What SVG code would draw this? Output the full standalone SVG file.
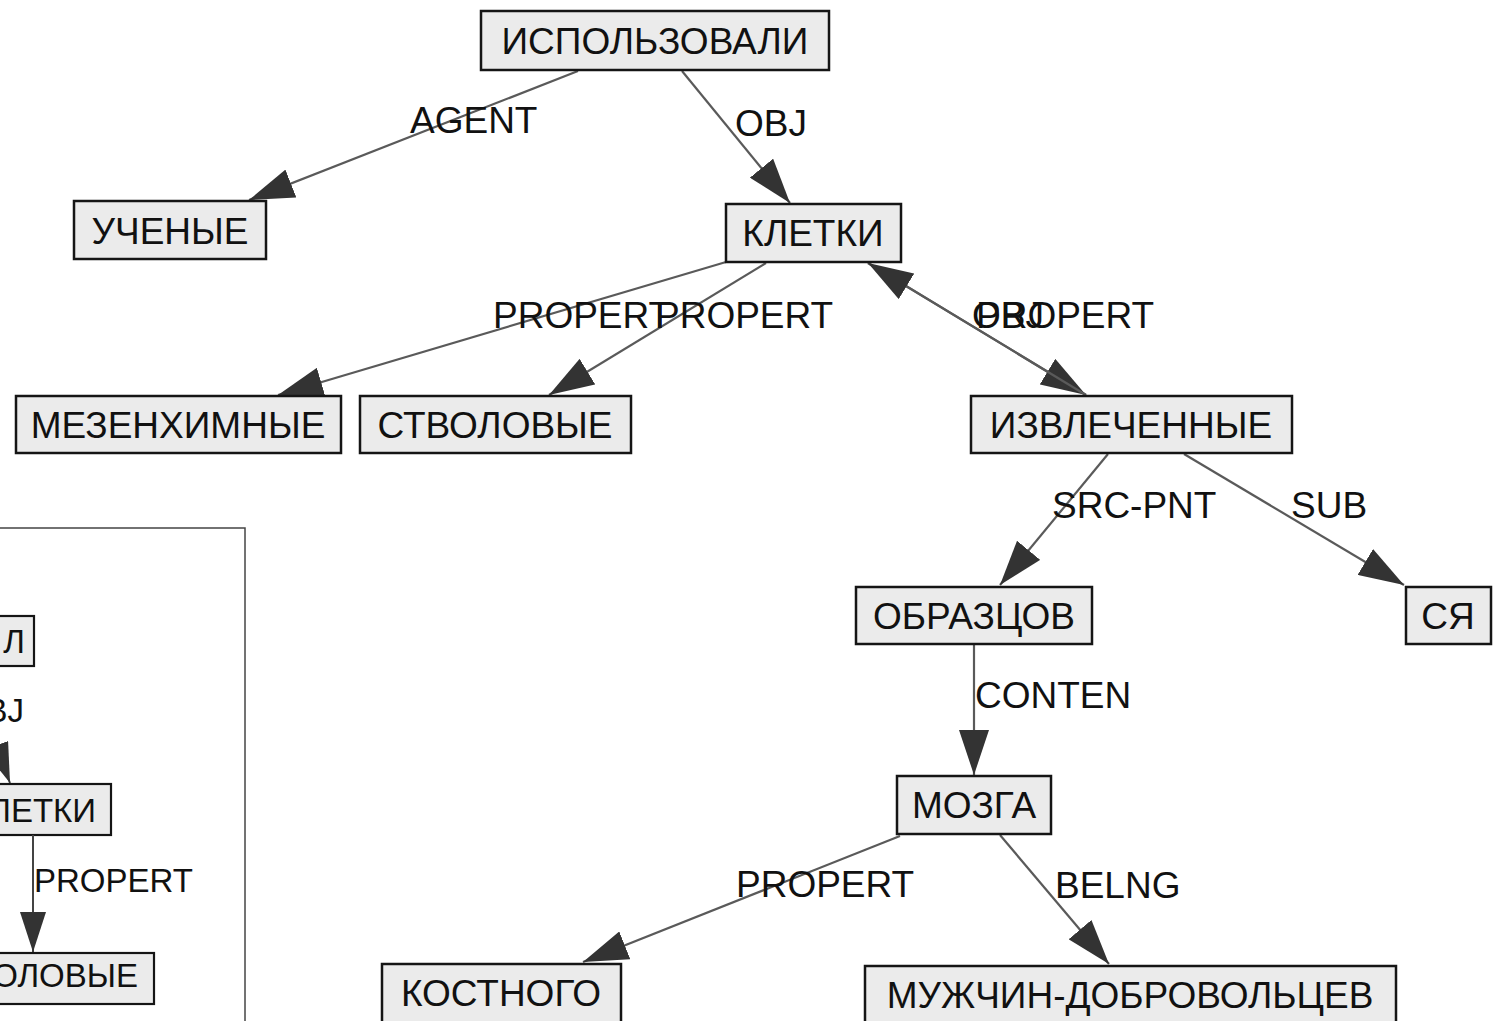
<svg xmlns="http://www.w3.org/2000/svg" width="1493" height="1021" viewBox="0 0 1493 1021">
<style>
.node rect{fill:#ebebeb;stroke:#151515;stroke-width:2.5}
.node text{font-family:"Liberation Sans",Arial,sans-serif;font-size:37px;fill:#111;text-anchor:middle}
.lbl{font-family:"Liberation Sans",Arial,sans-serif;font-size:37px;fill:#111}
.edge{stroke:#5a5a5a;stroke-width:2.2;fill:none;marker-end:url(#ah)}
.inset rect.n{fill:#ebebeb;stroke:#151515;stroke-width:2.2}
.inset text{font-family:"Liberation Sans",Arial,sans-serif;font-size:33px;fill:#111}
</style>
<defs>
<marker id="ah" markerUnits="userSpaceOnUse" viewBox="0 0 45 30" markerWidth="45" markerHeight="30" refX="45" refY="15" orient="auto">
<path d="M0,0 L45,15 L0,30 Z" fill="#333"/>
</marker>
<marker id="ahs" markerUnits="userSpaceOnUse" viewBox="0 0 40 26" markerWidth="40" markerHeight="26" refX="40" refY="13" orient="auto">
<path d="M0,0 L40,13 L0,26 Z" fill="#333"/>
</marker>
</defs>
<rect width="1493" height="1021" fill="#fff"/>

<g id="inset" class="inset">
<rect x="-10" y="528" width="255" height="600" fill="none" stroke="#444" stroke-width="1.5"/>
<rect class="n" x="-10" y="616" width="44" height="50"/>
<text x="25" y="653" text-anchor="end">Л</text>
<text x="24" y="722" text-anchor="end">BJ</text>
<line x1="-25" y1="690" x2="10" y2="783" stroke="#444" stroke-width="2" marker-end="url(#ahs)"/>
<rect class="n" x="-10" y="784" width="121" height="51"/>
<text x="96" y="822" text-anchor="end">ЛЕТКИ</text>
<line x1="33" y1="835" x2="33" y2="952" stroke="#444" stroke-width="2" marker-end="url(#ahs)"/>
<text x="34" y="892">PROPERT</text>
<rect class="n" x="-10" y="953" width="164" height="51"/>
<text x="138" y="987" text-anchor="end">ОЛОВЫЕ</text>
</g>

<g id="edges">
<line class="edge" x1="578" y1="71" x2="249" y2="200"/>
<line class="edge" x1="682" y1="71" x2="790" y2="203"/>
<line class="edge" x1="726" y1="262" x2="278" y2="395"/>
<line class="edge" x1="766" y1="263" x2="549" y2="395"/>
<line class="edge" x1="868" y1="263" x2="1086" y2="395"/>
<line class="edge" x1="1086" y1="395" x2="868" y2="263"/>
<line class="edge" x1="1108" y1="454" x2="1000" y2="585"/>
<line class="edge" x1="1184" y1="454" x2="1404" y2="585"/>
<line class="edge" x1="974" y1="645" x2="974" y2="775"/>
<line class="edge" x1="900" y1="836" x2="583" y2="962"/>
<line class="edge" x1="1000" y1="835" x2="1109" y2="964"/>
</g>

<g id="labels">
<text class="lbl" x="410" y="133">AGENT</text>
<text class="lbl" x="735" y="136">OBJ</text>
<text class="lbl" x="493" y="328">PROPERT</text>
<text class="lbl" x="655" y="328">PROPERT</text>
<text class="lbl" x="972" y="328">OBJ</text>
<text class="lbl" x="976" y="328">PROPERT</text>
<text class="lbl" x="1052" y="518">SRC-PNT</text>
<text class="lbl" x="1291" y="518">SUB</text>
<text class="lbl" x="975" y="708">CONTEN</text>
<text class="lbl" x="736" y="897">PROPERT</text>
<text class="lbl" x="1055" y="898">BELNG</text>
</g>

<g id="n_ispolzovali" class="node"><rect x="481" y="11" width="348" height="59"/><text x="655" y="54">ИСПОЛЬЗОВАЛИ</text></g>
<g id="n_uchenye" class="node"><rect x="74" y="201" width="192" height="58"/><text x="170" y="244">УЧЕНЫЕ</text></g>
<g id="n_kletki" class="node"><rect x="726" y="204" width="175" height="58"/><text x="813" y="246">КЛЕТКИ</text></g>
<g id="n_mezenhimnye" class="node"><rect x="16" y="396" width="325" height="57"/><text x="178" y="438">МЕЗЕНХИМНЫЕ</text></g>
<g id="n_stvolovye" class="node"><rect x="360" y="396" width="271" height="57"/><text x="495" y="438">СТВОЛОВЫЕ</text></g>
<g id="n_izvlechennye" class="node"><rect x="971" y="396" width="321" height="57"/><text x="1131" y="438">ИЗВЛЕЧЕННЫЕ</text></g>
<g id="n_obrazcov" class="node"><rect x="856" y="587" width="236" height="57"/><text x="974" y="629">ОБРАЗЦОВ</text></g>
<g id="n_sya" class="node"><rect x="1406" y="587" width="85" height="57"/><text x="1448" y="629">СЯ</text></g>
<g id="n_mozga" class="node"><rect x="897" y="776" width="154" height="58"/><text x="974" y="818">МОЗГА</text></g>
<g id="n_kostnogo" class="node"><rect x="382" y="964" width="239" height="62"/><text x="501" y="1006">КОСТНОГО</text></g>
<g id="n_muzhchin" class="node"><rect x="865" y="966" width="531" height="60"/><text x="1130" y="1008">МУЖЧИН-ДОБРОВОЛЬЦЕВ</text></g>
</svg>
